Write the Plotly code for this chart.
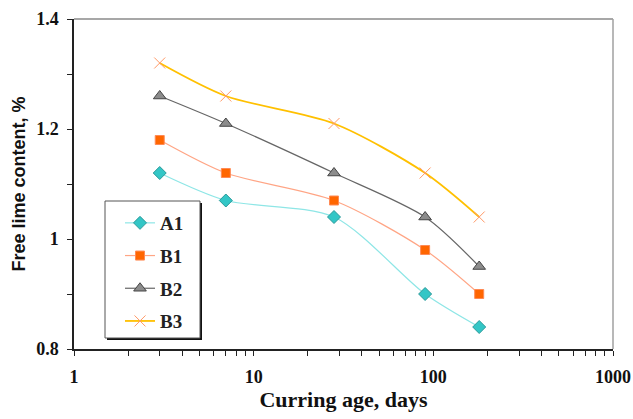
import plotly.graph_objects as go

# Curing age (days) and free lime content (%) for each mix
ages = [3, 7, 28, 90, 180]
a1 = [1.12, 1.07, 1.04, 0.90, 0.84]
b1 = [1.18, 1.12, 1.07, 0.98, 0.90]
b2 = [1.26, 1.21, 1.12, 1.04, 0.95]
b3 = [1.32, 1.26, 1.21, 1.12, 1.04]

x_tickvals = [m * 10 ** e for e in range(3) for m in range(1, 10)] + [1000]
x_ticktext = [str(v) if v in (1, 10, 100, 1000) else "" for v in x_tickvals]
y_tickvals = [0.8, 0.9, 1.0, 1.1, 1.2, 1.3, 1.4]
y_ticktext = ["0.8", "", "1", "", "1.2", "", "1.4"]

series = [
    ("A1", a1, "#8ee6e6", 1.2, dict(symbol="diamond", size=10, color="#33c6c6",
                                    line=dict(color="#2a9a9a", width=1))),
    ("B1", b1, "#ffa585", 1.2, dict(symbol="square", size=9, color="#ff6600",
                                    line=dict(color="#ff8a55", width=1))),
    ("B2", b2, "#666666", 1.2, dict(symbol="triangle-up", size=11, color="#8c8c8c",
                                    line=dict(color="#444444", width=1))),
    ("B3", b3, "#ffc000", 1.8, dict(symbol="x-thin", size=11, color="#ff9966",
                                    line=dict(color="#ff9966", width=1))),
]

fig = go.Figure()
for name, vals, lc, lw, mk in series:
    fig.add_trace(go.Scatter(
        x=ages, y=vals, name=name, mode="lines+markers",
        line=dict(color=lc, width=lw, shape="spline", smoothing=0.8),
        marker=mk, legendgroup=name,
    ))

W, H = 633, 419
L, R, T, B = 74, 613, 19, 349


def px_x(p):
    return (p - L) / (R - L)


def px_y(p):
    return (B - p) / (B - T)


shapes = [
    # top and right frame lines
    dict(type="line", xref="paper", yref="paper", x0=0, x1=1, y0=1, y1=1,
         line=dict(color="#8a8a8a", width=1.5)),
    dict(type="line", xref="paper", yref="paper", x0=1, x1=1, y0=0, y1=1,
         line=dict(color="#a0a0a0", width=1.5)),
    # legend box shadow and box
    dict(type="rect", xref="paper", yref="paper", layer="above",
         x0=px_x(107), x1=px_x(202), y0=px_y(340), y1=px_y(203),
         fillcolor="#111111", line=dict(width=0)),
    dict(type="rect", xref="paper", yref="paper", layer="above",
         x0=px_x(105), x1=px_x(200), y0=px_y(338), y1=px_y(201),
         fillcolor="white", line=dict(color="#555555", width=1)),
]

tick_font = dict(family="Liberation Serif", size=18, color="#111111", weight="bold")

fig.update_layout(
    width=W, height=H,
    margin=dict(l=L, r=W - R, t=T, b=H - B, autoexpand=False),
    paper_bgcolor="white", plot_bgcolor="white",
    showlegend=True,
    legend=dict(
        x=px_x(120), y=px_y(204), xanchor="left", yanchor="top",
        bgcolor="rgba(0,0,0,0)", borderwidth=0,
        font=dict(family="Liberation Serif", size=19, color="#222222", weight="bold"),
        tracegroupgap=5, itemwidth=30,
    ),
    shapes=shapes,
    xaxis=dict(
        type="log", range=[0, 3], automargin=False,
        tickvals=x_tickvals, ticktext=x_ticktext,
        ticks="outside", ticklen=5, tickwidth=1, tickcolor="#222222",
        ticklabelstandoff=6,
        showline=True, linecolor="#222222", linewidth=1.5,
        showgrid=False, zeroline=False,
        tickfont=tick_font,
        title=dict(text="Curring age, days", standoff=5,
                   font=dict(family="Liberation Serif", size=22, color="#111111", weight="bold")),
    ),
    yaxis=dict(
        range=[0.8, 1.4], automargin=False,
        tickvals=y_tickvals, ticktext=y_ticktext,
        ticks="outside", ticklen=5, tickwidth=1, tickcolor="#222222",
        ticklabelstandoff=5,
        showline=True, linecolor="#222222", linewidth=1.5,
        showgrid=False, zeroline=False,
        tickfont=tick_font,
        title=dict(text="Free lime content, %", standoff=6,
                   font=dict(family="Liberation Sans", size=18, color="#111111", weight="bold")),
    ),
)

fig.write_html("out.html")
